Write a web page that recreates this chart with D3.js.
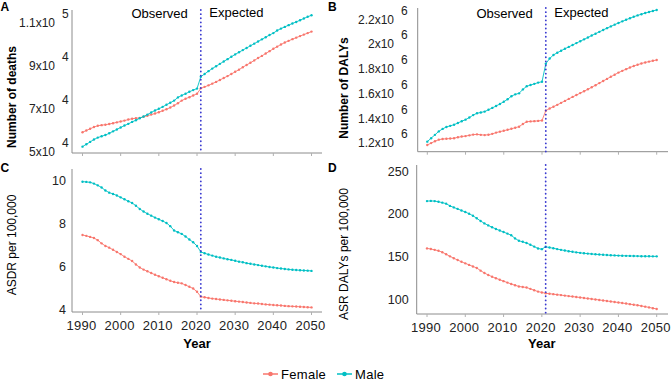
<!DOCTYPE html>
<html>
<head>
<meta charset="utf-8">
<script src="https://cdn.jsdelivr.net/npm/d3@7"></script>
<style>
  body { margin: 0; background: #fff; }
  svg { font-family: "Liberation Sans", Arial, sans-serif; }
</style>
</head>
<body>
<div id="container"></div>
<script>
/* CONSTANTS AND GLOBALS */
const width = 672;
const height = 383;

const femaleColor = "#F8766D";
const maleColor = "#00BFC4";
const splitYear = 2021;

/* DATA */
const years = d3.range(1990, 2051);
const yearTicks = [1990, 2000, 2010, 2020, 2030, 2040, 2050];

// A - number of deaths
const deathsFemale = [57100, 57900, 58700, 59500, 60100, 60400, 60600, 60900, 61300, 61700,
  62100, 62500, 63000, 63400, 63600, 63800, 64300, 64800, 65300, 65800,
  66400, 67100, 67800, 68600, 69500, 70600, 71800, 72700, 73400, 74200,
  75000, 77500, 78200, 78900, 79700, 80500, 81400, 82300, 83200, 84200,
  85200, 86200, 87300, 88400, 89400, 90500, 91600, 92600, 93700, 94800,
  95900, 96900, 97900, 98800, 99600, 100400, 101100, 101800, 102500, 103200, 103900];
const deathsMale = [50400, 51500, 52600, 53700, 54600, 55200, 55800, 56600, 57500, 58400,
  59300, 60200, 61000, 61900, 62700, 63600, 64400, 65300, 66300, 67200,
  68000, 68900, 69900, 70800, 71800, 73300, 74200, 75000, 75900, 76700,
  77400, 82900, 84200, 85500, 86700, 87800, 88900, 90000, 91100, 92200,
  93300, 94300, 95300, 96300, 97300, 98300, 99300, 100300, 101300, 102300,
  103200, 104400, 105300, 106100, 106900, 107700, 108400, 109200, 110000, 110800, 111500];
const deathsTicks = [50000, 70000, 90000, 110000];
const deathsTickLabels = [["5x10", "4"], ["7x10", "4"], ["9x10", "4"], ["1.1x10", "5"]];

// B - number of DALYs
const dalysFemale = [1150000, 1165000, 1180000, 1193000, 1198000, 1200000, 1202000, 1205000, 1212000, 1218000,
  1222000, 1228000, 1234000, 1236000, 1232000, 1230000, 1233000, 1240000, 1250000, 1258000,
  1265000, 1273000, 1281000, 1290000, 1298000, 1320000, 1338000, 1341000, 1343000, 1345000,
  1348000, 1428000, 1445000, 1460000, 1475000, 1491000, 1507000, 1523000, 1539000, 1554000,
  1570000, 1585000, 1601000, 1617000, 1634000, 1651000, 1668000, 1685000, 1702000, 1719000,
  1736000, 1750000, 1764000, 1777000, 1789000, 1800000, 1810000, 1818000, 1825000, 1832000, 1838000];
const dalysMale = [1177000, 1205000, 1232000, 1260000, 1280000, 1296000, 1305000, 1314000, 1328000, 1342000,
  1355000, 1372000, 1392000, 1407000, 1413000, 1420000, 1435000, 1450000, 1466000, 1482000,
  1500000, 1520000, 1545000, 1560000, 1568000, 1600000, 1625000, 1635000, 1645000, 1655000,
  1662000, 1808000, 1850000, 1879000, 1897000, 1913000, 1929000, 1944000, 1959000, 1975000,
  1990000, 2005000, 2020000, 2036000, 2051000, 2066000, 2081000, 2096000, 2110000, 2124000,
  2138000, 2151000, 2164000, 2176000, 2188000, 2199000, 2209000, 2218000, 2227000, 2235000, 2243000];
const dalysTicks = [1200000, 1400000, 1600000, 1800000, 2000000, 2200000];
const dalysTickLabels = [["1.2x10", "6"], ["1.4x10", "6"], ["1.6x10", "6"], ["1.8x10", "6"], ["2x10", "6"], ["2.2x10", "6"]];

// C - ASDR per 100,000
const asdrFemale = [7.49, 7.45, 7.40, 7.35, 7.25, 7.10, 6.98, 6.90, 6.80, 6.70,
  6.60, 6.48, 6.38, 6.28, 6.12, 5.98, 5.88, 5.80, 5.72, 5.64,
  5.57, 5.50, 5.43, 5.36, 5.30, 5.27, 5.24, 5.16, 5.08, 5.00,
  4.85, 4.62, 4.59, 4.56, 4.53, 4.51, 4.49, 4.47, 4.45, 4.43,
  4.41, 4.39, 4.37, 4.35, 4.33, 4.31, 4.30, 4.28, 4.26, 4.25,
  4.23, 4.22, 4.21, 4.19, 4.18, 4.17, 4.16, 4.15, 4.14, 4.13, 4.12];
const asdrMale = [9.97, 9.96, 9.94, 9.88, 9.80, 9.70, 9.56, 9.46, 9.40, 9.33,
  9.24, 9.15, 9.06, 8.98, 8.85, 8.70, 8.58, 8.48, 8.39, 8.30,
  8.22, 8.14, 8.05, 7.90, 7.70, 7.62, 7.54, 7.42, 7.28, 7.15,
  6.98, 6.70, 6.64, 6.58, 6.53, 6.48, 6.44, 6.40, 6.36, 6.33,
  6.29, 6.25, 6.22, 6.18, 6.15, 6.12, 6.09, 6.06, 6.03, 6.00,
  5.98, 5.95, 5.93, 5.91, 5.89, 5.87, 5.86, 5.85, 5.84, 5.83, 5.82];
const asdrTicks = [4, 6, 8, 10];

// D - ASR DALYs per 100,000
const asrDalysFemale = [160.3, 159.6, 158.6, 157.5, 155.8, 153.5, 151.0, 148.8, 146.7, 144.6,
  142.8, 141.0, 139.2, 137.4, 134.3, 131.5, 129.2, 127.2, 125.4, 123.7,
  122.0, 120.3, 118.7, 117.2, 115.8, 115.2, 114.6, 113.0, 111.4, 109.8,
  108.8, 107.8, 107.3, 106.8, 106.2, 105.7, 105.1, 104.5, 104.0, 103.4,
  102.9, 102.3, 101.7, 101.2, 100.6, 100.0, 99.4, 98.8, 98.2, 97.6,
  97.0, 96.4, 95.8, 95.1, 94.5, 93.8, 93.0, 92.2, 91.3, 90.4, 89.5];
const asrDalysMale = [215.6, 215.8, 215.6, 214.8, 213.8, 212.6, 210.0, 208.2, 206.5, 204.6,
  202.8, 200.8, 198.5, 195.5, 192.3, 189.5, 187.2, 185.0, 183.0, 181.2,
  179.4, 177.6, 175.6, 172.0, 169.2, 168.0, 166.6, 164.6, 162.4, 160.2,
  159.4, 162.2, 161.3, 160.4, 159.5, 158.6, 157.8, 157.0, 156.3, 155.7,
  155.1, 154.6, 154.2, 153.8, 153.4, 153.1, 152.8, 152.5, 152.3, 152.1,
  151.9, 151.7, 151.6, 151.5, 151.4, 151.3, 151.2, 151.1, 151.1, 151.0, 151.0];
const asrDalysTicks = [100, 150, 200, 250];

/* HTML ELEMENTS */
const svg = d3.select("#container")
  .append("svg")
  .attr("width", width)
  .attr("height", height)

// panel layout (pixels) - one entry per panel
const panels = [
  { letter: "A", lx: 0.5, ly: 10.5, left: 72, right: 322, top: 10, bottom: 153, x0: 82.5, x1: 311.5,
    yDomain: [47440, 113950], female: deathsFemale, male: deathsMale,
    ticks: deathsTicks, sciLabels: deathsTickLabels, baseEnd: 55, expStart: 62,
    title: "Number of deaths", titleX: 12, titleY: 97, titleBold: true, showYears: false, header: true },
  { letter: "B", lx: 328, ly: 10.5, left: 417.7, right: 668, top: 8, bottom: 151.7, x0: 427.3, x1: 656.7,
    yDomain: [1095500, 2259000], female: dalysFemale, male: dalysMale,
    ticks: dalysTicks, sciLabels: dalysTickLabels, baseEnd: 394, expStart: 401,
    title: "Number of DALYs", titleX: 344, titleY: 88, titleBold: true, showYears: false, header: true },
  { letter: "C", lx: 0.5, ly: 172, left: 72, right: 322, top: 169, bottom: 312, x0: 82.5, x1: 311.5,
    yDomain: [3.907, 10.56], female: asdrFemale, male: asdrMale,
    ticks: asdrTicks, labelGap: 6,
    title: "ASDR per 100,000", titleX: 12, titleY: 245, titleBold: false, showYears: true, header: false },
  { letter: "D", lx: 328, ly: 172, left: 416.7, right: 668, top: 165, bottom: 314, x0: 427, x1: 656.7,
    yDomain: [83.6, 257.8], female: asrDalysFemale, male: asrDalysMale,
    ticks: asrDalysTicks, labelGap: 8,
    title: "ASR DALYs per 100,000", titleX: 344, titleY: 254, titleBold: false, showYears: true, header: false }
]

panels.forEach(p => {
  /* SCALES */
  const xScale = d3.scaleLinear()
    .domain([1990, 2050])
    .range([p.x0, p.x1])

  const yScale = d3.scaleLinear()
    .domain(p.yDomain)
    .range([p.bottom, p.top])

  const g = svg.append("g")

  // panel letter
  g.append("text")
    .attr("x", p.lx)
    .attr("y", p.ly)
    .text(p.letter)
    .style("font-size", "12px")
    .style("font-weight", "bold")

  // axes lines
  g.append("line")
    .attr("x1", p.left).attr("x2", p.left)
    .attr("y1", p.top).attr("y2", p.bottom)
    .attr("stroke", "#8c8c8c")
  g.append("line")
    .attr("x1", p.left).attr("x2", p.right)
    .attr("y1", p.bottom).attr("y2", p.bottom)
    .attr("stroke", "#8c8c8c")

  // x ticks
  g.selectAll(".xtick")
    .data(yearTicks)
    .join("line")
    .attr("x1", d => xScale(d)).attr("x2", d => xScale(d))
    .attr("y1", p.bottom).attr("y2", p.bottom + 3)
    .attr("stroke", "#b0b0b0")

  if (p.showYears) {
    g.selectAll(".xlab")
      .data(yearTicks)
      .join("text")
      .attr("x", d => xScale(d) - 1)
      .attr("y", p.bottom + 13)
      .attr("text-anchor", "middle")
      .attr("dominant-baseline", "central")
      .style("font-size", "13px")
      .style("letter-spacing", "0.3px")
      .attr("fill", "#222")
      .text(d => d)

    g.append("text")
      .attr("x", (p.x0 + p.x1) / 2)
      .attr("y", 343)
      .attr("text-anchor", "middle")
      .attr("dominant-baseline", "central")
      .style("font-size", "13px")
      .style("font-weight", "bold")
      .text("Year")
  }

  // y tick labels
  if (p.sciLabels) {
    g.selectAll(".ybase")
      .data(p.ticks)
      .join("text")
      .attr("x", p.baseEnd)
      .attr("y", d => yScale(d) + 4.5)
      .attr("text-anchor", "end")
      .attr("dominant-baseline", "central")
      .style("font-size", "12px")
      .attr("fill", "#222")
      .text((d, i) => p.sciLabels[i][0])
    g.selectAll(".yexp")
      .data(p.ticks)
      .join("text")
      .attr("x", p.expStart)
      .attr("y", d => yScale(d) - 4.5)
      .attr("dominant-baseline", "central")
      .style("font-size", "12px")
      .attr("fill", "#222")
      .text((d, i) => p.sciLabels[i][1])
  } else {
    g.selectAll(".ylab")
      .data(p.ticks)
      .join("text")
      .attr("x", p.left - p.labelGap)
      .attr("y", d => yScale(d))
      .attr("text-anchor", "end")
      .attr("dominant-baseline", "central")
      .style("font-size", "12.5px")
      .attr("fill", "#222")
      .text(d => d)
  }

  // y title
  g.append("text")
    .attr("transform", `translate(${p.titleX},${p.titleY}) rotate(-90)`)
    .attr("text-anchor", "middle")
    .attr("dominant-baseline", "central")
    .style("font-size", "12px")
    .style("font-weight", p.titleBold ? "bold" : "normal")
    .text(p.title)

  // lines + points
  const series = [
    { values: p.female, color: femaleColor },
    { values: p.male, color: maleColor }
  ]
  const line = d3.line()
    .x((d, i) => xScale(years[i]))
    .y(d => yScale(d))

  series.forEach(s => {
    g.append("path")
      .datum(s.values)
      .attr("d", line)
      .attr("fill", "none")
      .attr("stroke", s.color)
      .attr("stroke-width", 0.9)
    g.selectAll(null)
      .data(s.values)
      .join("circle")
      .attr("cx", (d, i) => xScale(years[i]))
      .attr("cy", d => yScale(d))
      .attr("r", 1.2)
      .attr("fill", s.color)
  })

  // observed / expected split
  const sx = xScale(splitYear)
  g.append("line")
    .attr("x1", sx).attr("x2", sx)
    .attr("y1", p.top).attr("y2", p.bottom)
    .attr("stroke", "#3a3ad0")
    .attr("stroke-width", 1.8)
    .attr("stroke-linecap", "round")
    .attr("stroke-dasharray", "0.1,4")

  if (p.header) {
    g.append("text")
      .attr("x", sx - 13)
      .attr("y", 18)
      .attr("text-anchor", "end")
      .style("font-size", "13px")
      .text("Observed")
    g.append("text")
      .attr("x", sx + 8.5)
      .attr("y", 17)
      .style("font-size", "13px")
      .text("Expected")
  }
})

// LEGEND
const legendItems = [
  { label: "Female", color: femaleColor, x: 263 },
  { label: "Male", color: maleColor, x: 337 }
]
const legend = svg.append("g")
legendItems.forEach(d => {
  legend.append("line")
    .attr("x1", d.x).attr("x2", d.x + 15)
    .attr("y1", 374).attr("y2", 374)
    .attr("stroke", d.color)
    .attr("stroke-width", 1.5)
  legend.append("circle")
    .attr("cx", d.x + 7.5)
    .attr("cy", 374)
    .attr("r", 2.3)
    .attr("fill", d.color)
  legend.append("text")
    .attr("x", d.x + 18)
    .attr("y", 374)
    .attr("dominant-baseline", "central")
    .style("font-size", "13px")
    .style("letter-spacing", "0.3px")
    .text(d.label)
})
</script>
</body>
</html>
